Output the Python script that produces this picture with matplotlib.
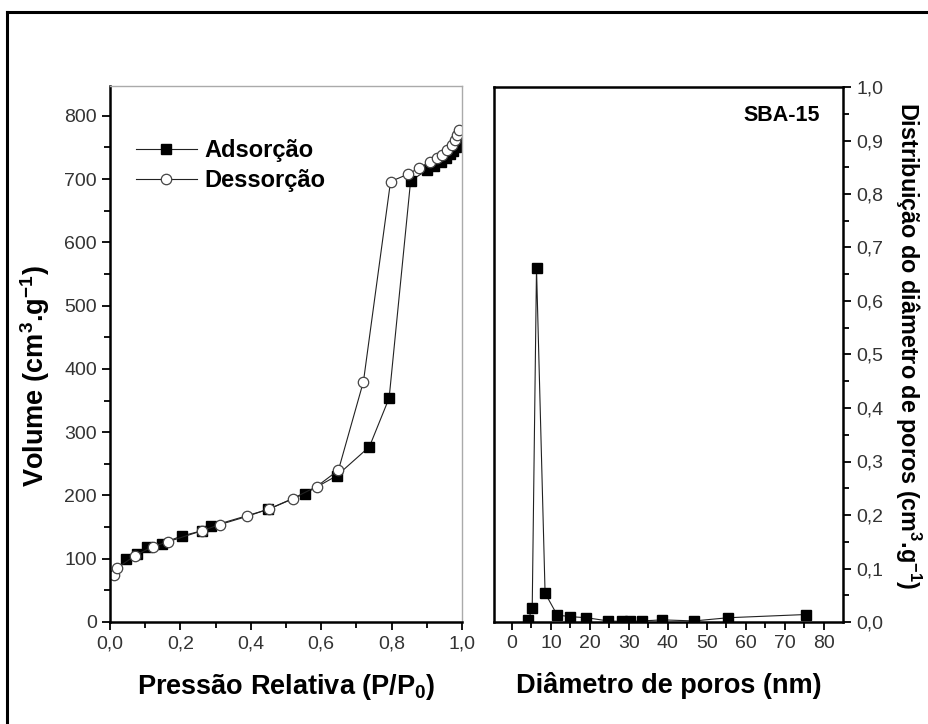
import matplotlib.pyplot as plt
from matplotlib.ticker import MultipleLocator, FuncFormatter
from matplotlib.lines import Line2D

plt.rcParams['font.family'] = ['Liberation Sans', 'DejaVu Sans']

# N2 adsorption isotherm (P/P0, volume cm3/g)
ads_p = [0.045, 0.076, 0.104, 0.147, 0.204, 0.26, 0.286, 0.45, 0.554, 0.644,
         0.737, 0.793, 0.854, 0.90, 0.92, 0.94, 0.955, 0.965, 0.975, 0.983,
         0.99, 0.995]
ads_v = [100, 108, 118, 124, 136, 144, 151, 178, 203, 231,
         277, 354, 697, 714, 720, 727, 733, 739, 745, 750,
         755, 760]

# desorption branch
des_p = [0.012, 0.02, 0.071, 0.121, 0.166, 0.26, 0.3125, 0.39, 0.453, 0.519,
         0.587, 0.649, 0.72, 0.797, 0.848, 0.879, 0.909, 0.928, 0.942, 0.957,
         0.971, 0.980, 0.987, 0.992]
des_v = [75, 85, 105, 119, 127, 144, 154, 167, 179, 195,
         214, 240, 380, 696, 708, 718, 727, 733, 738, 746,
         754, 762, 770, 778]

# pore size distribution
diam = [4.2, 5.2, 6.3, 8.5, 11.6, 15.0, 19.1, 24.7, 28.1, 30.3, 33.3, 38.6,
        46.7, 55.5, 75.4]
dist = [0.004, 0.026, 0.661, 0.054, 0.013, 0.010, 0.008, 0.002, 0.001, 0.001,
        0.002, 0.004, 0.002, 0.008, 0.014]

tick_col = '#333333'
comma = FuncFormatter(lambda v, p: ('%.1f' % v).replace('.', ','))

fig = plt.figure(figsize=(9.29, 7.24), dpi=100)
fig.patch.set_facecolor('white')

# outer frame (top and left edges only)
fig.add_artist(Line2D([7 / 929, 1.0], [1 - 12 / 724, 1 - 12 / 724],
                      transform=fig.transFigure, color='black', lw=2.2))
fig.add_artist(Line2D([7 / 929, 7 / 929], [0, 1 - 12 / 724],
                      transform=fig.transFigure, color='black', lw=2.2))

# --- isotherm ---
ax1 = fig.add_axes([110 / 929, 1 - 622 / 724, 352 / 929, 536 / 724])
ax1.plot(ads_p, ads_v, color='#222222', lw=0.8, marker='s', ms=7,
         mfc='black', mec='black', label='Adsorção')
ax1.plot(des_p, des_v, color='#222222', lw=0.8, marker='o', ms=7.5,
         mfc='white', mec='#444444', mew=0.9, label='Dessorção')
ax1.set_xlim(0, 1.0)
ax1.set_ylim(0, 847)
ax1.xaxis.set_major_locator(MultipleLocator(0.2))
ax1.xaxis.set_minor_locator(MultipleLocator(0.1))
ax1.yaxis.set_major_locator(MultipleLocator(100))
ax1.yaxis.set_minor_locator(MultipleLocator(50))
ax1.xaxis.set_major_formatter(comma)
ax1.tick_params(which='both', direction='out', colors='black', labelcolor=tick_col,
                labelsize=14, width=1.3)
ax1.tick_params(which='major', length=6)
ax1.tick_params(which='minor', length=4)
for s in ['left', 'bottom']:
    ax1.spines[s].set_linewidth(1.8)
for s in ['top', 'right']:
    ax1.spines[s].set_color('#aaaaaa')
    ax1.spines[s].set_linewidth(1.0)
ax1.set_xlabel('Pressão Relativa (P/P$_\\mathregular{0}$)', fontsize=19.5,
               fontweight='bold', labelpad=14)
ax1.set_ylabel('Volume (cm$^\\mathregular{3}$.g$^\\mathregular{-1}$)', fontsize=19.5,
               fontweight='bold')
ax1.yaxis.set_label_coords(-0.165, 0.459)
ax1.legend(loc='upper left', bbox_to_anchor=(0.048, 0.918), frameon=False,
           prop={'size': 17, 'weight': 'bold'}, handlelength=2.55,
           handletextpad=0.35, labelspacing=0.3, borderaxespad=0)

# --- pore size distribution ---
ax2 = fig.add_axes([494 / 929, 1 - 622 / 724, 349 / 929, 535 / 724])
ax2.plot(diam, dist, color='#222222', lw=0.8, marker='s', ms=7.5,
         mfc='black', mec='black')
ax2.set_xlim(-4.6, 84.9)
ax2.set_ylim(0, 1.0)
ax2.xaxis.set_major_locator(MultipleLocator(10))
ax2.xaxis.set_minor_locator(MultipleLocator(5))
ax2.yaxis.set_major_locator(MultipleLocator(0.1))
ax2.yaxis.set_minor_locator(MultipleLocator(0.05))
ax2.yaxis.set_major_formatter(comma)
ax2.yaxis.tick_right()
ax2.yaxis.set_label_position('right')
ax2.tick_params(which='both', direction='out', colors='black', labelcolor=tick_col,
                labelsize=14, width=1.3)
ax2.tick_params(which='major', length=6)
ax2.tick_params(which='minor', length=4)
for s in ax2.spines.values():
    s.set_linewidth(1.8)
ax2.set_xlabel('Diâmetro de poros (nm)', fontsize=19.5, fontweight='bold',
               labelpad=14)
ax2.set_ylabel('Distribuição do diâmetro de poros (cm$^\\mathregular{3}$.g$^\\mathregular{-1}$)',
               fontsize=16.8, fontweight='bold')
ax2.yaxis.label.set(rotation=270, ha='center', va='center')
ax2.yaxis.set_label_coords(414 / 349, 0.516)
ax2.text(0.935, 0.946, 'SBA-15', transform=ax2.transAxes, ha='right', va='center',
         fontsize=15.5, fontweight='bold')

fig.savefig('out.png', dpi=100)
